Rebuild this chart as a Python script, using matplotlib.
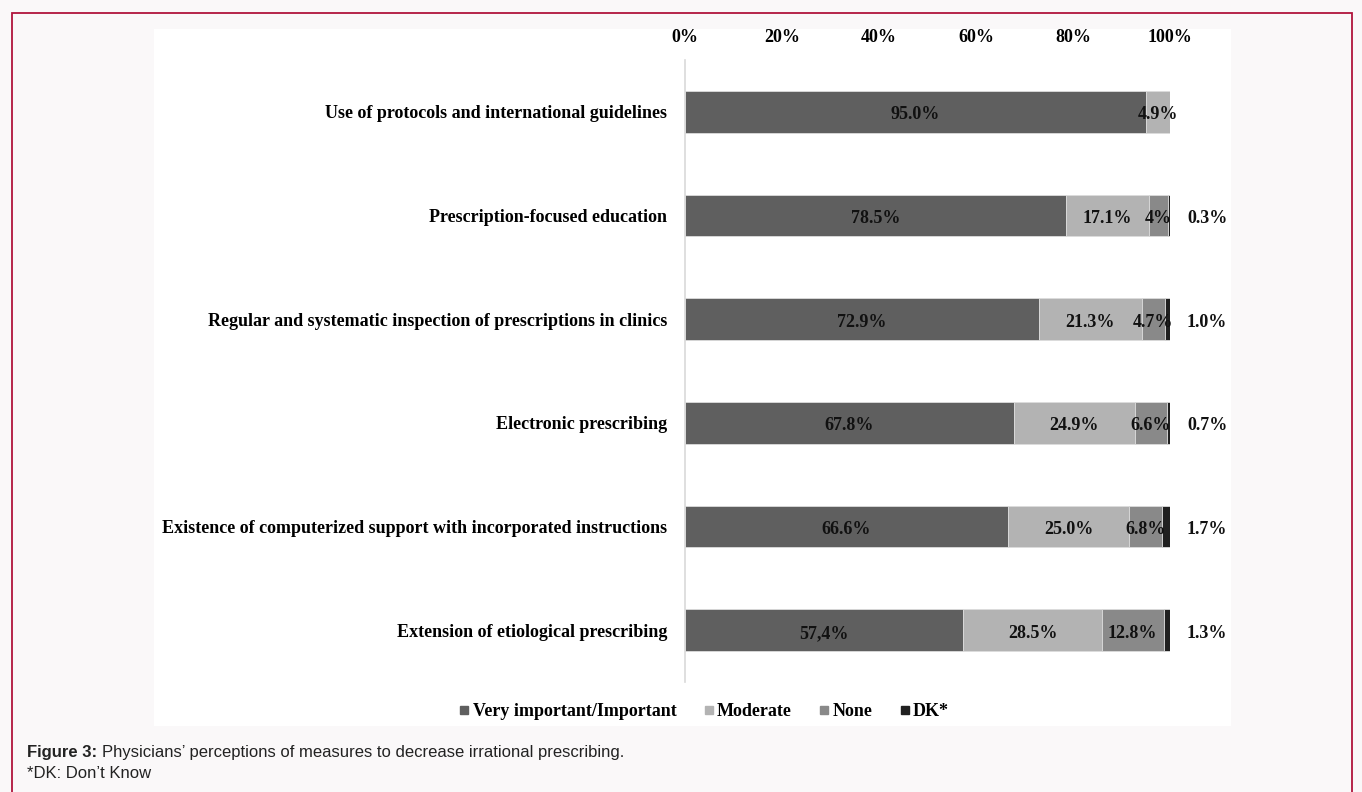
import matplotlib.pyplot as plt
from matplotlib.patches import Rectangle
from matplotlib.lines import Line2D
import numpy as np

categories = [
    "Use of protocols and international guidelines",
    "Prescription-focused education",
    "Regular and systematic inspection of prescriptions in clinics",
    "Electronic prescribing",
    "Existence of computerized support with incorporated instructions",
    "Extension of etiological prescribing",
]
series_names = ["Very important/Important", "Moderate", "None", "DK*"]
very_important = [95.0, 78.5, 72.9, 67.8, 66.6, 57.4]
moderate = [4.9, 17.1, 21.3, 24.9, 25.0, 28.5]
none_vals = [0.0, 4.0, 4.7, 6.6, 6.8, 12.8]
dk = [0.0, 0.3, 1.0, 0.7, 1.7, 1.3]

# labels as printed in the original (one uses a comma)
vi_labels = ["95.0%", "78.5%", "72.9%", "67.8%", "66.6%", "57,4%"]
mod_labels = ["4.9%", "17.1%", "21.3%", "24.9%", "25.0%", "28.5%"]
none_labels = [None, "4%", "4.7%", "6.6%", "6.8%", "12.8%"]
dk_labels = [None, "0.3%", "1.0%", "0.7%", "1.7%", "1.3%"]
xticks = [0, 20, 40, 60, 80, 100]

colors = ["#5f5f5f", "#b3b3b3", "#898989", "#202020"]
serif = "Liberation Serif"

W, H = 1362, 792
fig = plt.figure(figsize=(W / 100, H / 100), dpi=100)
fig.patch.set_facecolor("#faf8f9")

# white chart panel and maroon frame
fig.patches.append(Rectangle((154 / W, 1 - 726 / H), (1231 - 154) / W, (726 - 29) / H,
                             transform=fig.transFigure, facecolor="white", edgecolor="none", zorder=-10))
fig.patches.append(Rectangle((12 / W, -0.05), (1352 - 12) / W, 1.05 - 13 / H,
                             transform=fig.transFigure, facecolor="none", edgecolor="#b0143c",
                             linewidth=1.3, zorder=-9))

ax = fig.add_axes([685 / W, 1 - 682 / H, (1170 - 685) / W, (682 - 60) / H])
ax.set_facecolor("white")
ax.set_zorder(2)

y = np.arange(len(categories))
data = [very_important, moderate, none_vals, dk]
labels = [vi_labels, mod_labels, none_labels, None]
dy = 0.03  # text sits a touch below bar centre in the original
left = np.zeros(len(categories))
for vals, col, labs in zip(data, colors, labels):
    vals = np.array(vals)
    ax.barh(y, vals, left=left, height=0.40, color=col, edgecolor="#dcdcdc", linewidth=0.6)
    if labs is not None:
        for i, lab in enumerate(labs):
            if lab:
                ax.text(left[i] + vals[i] / 2, y[i] + dy, lab, ha="center", va="center",
                        fontsize=13, fontweight="bold", family=serif, color="#111111")
    left = left + vals

for i, lab in enumerate(dk_labels):
    if lab:
        ax.text(103.5, y[i] + dy, lab, ha="left", va="center", fontsize=13,
                fontweight="bold", family=serif, color="#111111", clip_on=False)

ax.set_xlim(0, 100)
ax.set_ylim(len(categories) - 0.5, -0.5)
ax.set_yticks(y)
ax.set_yticklabels(categories, fontsize=13, fontweight="bold", family=serif)
ax.set_xticks(xticks)
ax.set_xticklabels([f"{t}%" for t in xticks], fontsize=13, fontweight="bold", family=serif)
ax.xaxis.tick_top()
ax.tick_params(axis="x", length=0, pad=10)
ax.tick_params(axis="y", length=0, pad=13)
for s in ["top", "right", "bottom"]:
    ax.spines[s].set_visible(False)
ax.spines["left"].set_color("#d9d9d9")
ax.spines["left"].set_linewidth(1.2)

handles = [Line2D([], [], marker="s", linestyle="none", markersize=6, color=c) for c in colors]
fig.legend(handles, series_names, loc="center", bbox_to_anchor=(704 / W, 1 - 712 / H), ncol=4,
           frameon=False, handlelength=0.6, handletextpad=0.15, columnspacing=1.5,
           prop={"family": serif, "weight": "bold", "size": 13})

# caption: bold lead-in followed by plain text
sans = "Liberation Sans"
cap_size = 12
t1 = fig.text(27 / W, 1 - 752 / H, "Figure 3:", fontsize=cap_size, fontweight="bold",
              family=sans, color="#222222", va="center")
fig.canvas.draw()
bb = t1.get_window_extent()
fig.text((bb.x1 + 5) / W, 1 - 752 / H,
         "Physicians\u2019 perceptions of measures to decrease irrational prescribing.",
         fontsize=cap_size, family=sans, color="#222222", va="center")
fig.text(27 / W, 1 - 774 / H, "*DK: Don\u2019t Know", fontsize=cap_size,
         family=sans, color="#222222", va="center")

fig.savefig("out.png", dpi=100, facecolor=fig.get_facecolor())
